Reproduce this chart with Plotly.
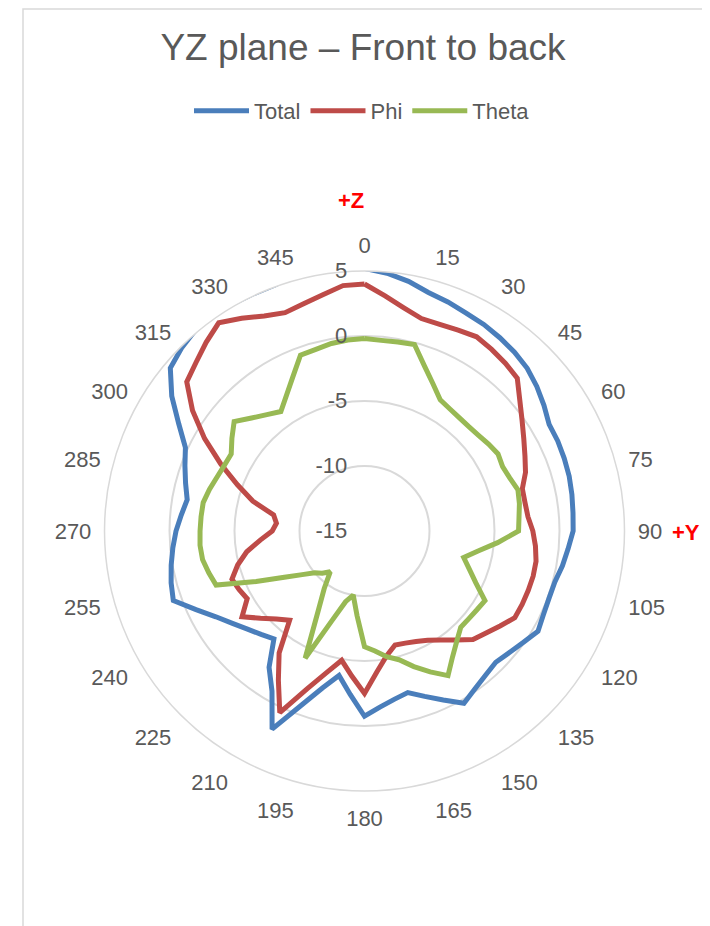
import plotly.graph_objects as go

# ---------------- data ----------------
angles = list(range(0, 360, 5))
tick_angles = list(range(0, 360, 15))
tick_labels = [str(a) for a in tick_angles]
radial_ticks = [-15, -10, -5, 0, 5]
radial_labels = ["-15", "-10", "-5", "0", "5"]

total = [5.2, 4.9, 4.5, 4.0, 3.75, 3.5, 3.35, 3.15, 2.95, 2.7, 2.3, 1.85,
         1.4, 1.4, 1.35, 1.3, 1.2, 1.1, 1.05, 0.72, 0.46, 0.16, 0.11, 0.19,
         0.41, -0.07, -0.45, -0.72, -0.52, -0.18, 0.3, -0.66, -1.46, -2.13, -1.85, -1.4,
         -0.75, -2.38, -3.72, -2.5, -0.72, 1.82, -0.77, -2.2, -4.16, -3.75, -3.25, -2.6,
         -1.8, -0.7, 0.65, 0.4, 0.1, -0.2, -0.5, -0.85, -1.15, -0.75, -0.3, 0.2,
         1.5, 3.1, 4.5, 4.9, 5.2, 5.4, 5.2, 5.15, 5.15, 5.4, 5.45, 5.3]

phi = [4.0, 3.15, 2.43, 1.92, 1.92, 2.05, 2.25, 2.05, 1.85, 1.62, 0.6, -0.2,
       -0.85, -1.38, -1.82, -2.43, -2.46, -2.38, -2.05, -1.8, -1.6, -1.57, -1.6, -1.62,
       -1.65, -2.27, -2.79, -3.2, -4.05, -4.77, -5.3, -5.62, -5.82, -5.92, -5.24, -4.12,
       -2.5, -3.8, -4.9, -3.72, -2.08, 0.42, -1.75, -3.55, -6.04, -5.42, -4.56, -3.5,
       -4.58, -4.35, -4.15, -4.9, -5.8, -6.95, -7.9, -8.2, -7.9, -6.1, -4.6, -2.8,
       -0.8, 1.15, 2.85, 3.33, 3.95, 4.55, 3.9, 3.25, 2.87, 3.1, 3.45, 3.95]

theta = [-0.2, -0.28, -0.24, -0.15, -1.5, -2.52, -3.35, -3.54, -3.64, -3.65, -3.55, -3.35,
         -3.14, -3.28, -3.1, -2.78, -2.9, -3.07, -3.15, -4.72, -6.13, -7.1, -6.42, -5.55,
         -4.3, -4.44, -4.52, -4.53, -3.95, -3.19, -2.15, -3.04, -3.9, -4.75, -5.18, -5.74,
         -6.1, -8.45, -10.0, -9.37, -7.64, -4.2, -7.85, -9.6, -10.9, -10.4, -10.0, -9.15,
         -7.88, -5.8, -2.85, -2.6, -2.35, -2.3, -2.35, -2.38, -2.4, -2.65, -2.92, -3.09,
         -3.16, -2.55, -1.91, -2.71, -3.32, -3.78, -2.98, -1.94, -0.6, -0.54, -0.35, -0.25]

series = [("Total", total, "#4A7EBB"), ("Phi", phi, "#BE4B48"), ("Theta", theta, "#98B954")]

# ---------------- figure ----------------
W, H = 710, 926
OFF = 8  # page body margin
FONT = "Liberation Sans, Arial, sans-serif"
GREY = "#595959"

fig = go.Figure()
for name, vals, col in series:
    fig.add_trace(go.Scatterpolar(
        r=vals + [vals[0]], theta=angles + [360], mode="lines", name=name,
        line=dict(color=col, width=5), hoverinfo="skip"))

cx, cy, R = 364.5 - OFF, 531 - OFF, 260


def px(x):
    return (x - OFF) / W


def py(y):
    return 1 - (y - OFF) / H


fig.update_layout(
    width=W, height=H, margin=dict(l=0, r=0, t=0, b=0),
    paper_bgcolor="white", plot_bgcolor="white",
    font=dict(family=FONT, color=GREY),
    title=dict(text="YZ plane – Front to back", x=px(363), xanchor="center",
               y=py(47), yanchor="middle", yref="container", xref="container",
               font=dict(size=37, color=GREY, family=FONT)),
    showlegend=True,
    legend=dict(orientation="h", x=px(362), xanchor="center", y=py(111), yanchor="middle",
                font=dict(size=22, color=GREY, family=FONT), bgcolor="rgba(0,0,0,0)",
                itemwidth=55),
    polar=dict(
        domain=dict(x=[(cx - R) / W, (cx + R) / W], y=[(H - cy - R) / H, (H - cy + R) / H]),
        bgcolor="white",
        angularaxis=dict(rotation=90, direction="clockwise", tickmode="array",
                         tickvals=tick_angles, ticktext=tick_labels, showgrid=False,
                         showline=True, linecolor="#d9d9d9", linewidth=1.5,
                         ticks="outside", ticklen=8, tickcolor="rgba(0,0,0,0)",
                         tickfont=dict(size=22, color=GREY, family=FONT)),
        radialaxis=dict(range=[-15, 5], tickmode="array", tickvals=radial_ticks,
                        ticktext=radial_labels, angle=90,
                        tickangle=90, side="counterclockwise", showline=False,
                        ticks="outside", ticklen=9, tickcolor="rgba(0,0,0,0)",
                        gridcolor="#d9d9d9", gridwidth=1.5,
                        tickfont=dict(size=22, color=GREY, family=FONT)),
    ),
    annotations=[
        dict(text="<b>+Z</b>", x=px(351), y=py(201), xref="paper", yref="paper",
             xanchor="center", yanchor="middle",
             showarrow=False, font=dict(size=22, color="#FF0000", family=FONT)),
        dict(text="<b>+Y</b>", x=px(686), y=py(532), xref="paper", yref="paper",
             xanchor="center", yanchor="middle",
             showarrow=False, font=dict(size=22, color="#FF0000", family=FONT)),
    ],
    shapes=[
        dict(type="rect", xref="paper", yref="paper", x0=px(23), x1=px(706),
             y0=-0.02, y1=1 - 1 / H, line=dict(color="#d9d9d9", width=1.5),
             fillcolor="rgba(0,0,0,0)", layer="below"),
    ],
)

fig.write_html("out.html")
